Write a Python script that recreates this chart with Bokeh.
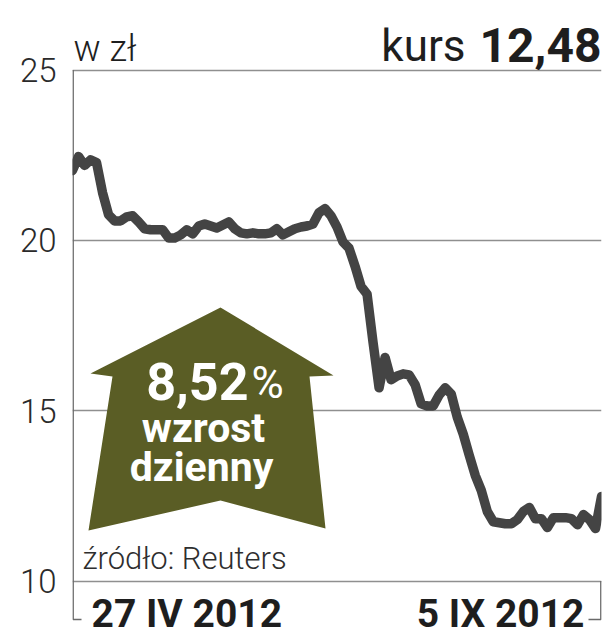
from bokeh.plotting import figure
from bokeh.models import Range1d, FixedTicker, Label, PolyAnnotation
from bokeh.embed import file_html
from bokeh.resources import INLINE

# ---- data ----
prices = [22.05, 22.46, 22.20, 22.36, 22.28, 21.40, 20.75, 20.57, 20.57, 20.69,
          20.72, 20.54, 20.34, 20.31, 20.31, 20.31, 20.07, 20.07, 20.16, 20.31,
          20.19, 20.42, 20.48, 20.42, 20.36, 20.45, 20.54, 20.34, 20.22, 20.19,
          20.22, 20.19, 20.19, 20.22, 20.34, 20.16, 20.25, 20.34, 20.39, 20.42,
          20.48, 20.81, 20.93, 20.72, 20.39, 19.95, 19.77, 19.24, 18.65, 18.42,
          17.00, 15.67, 16.56, 15.91, 16.02, 16.08, 16.05, 15.76, 15.20, 15.14,
          15.14, 15.46, 15.67, 15.49, 14.81, 14.31, 13.69, 13.10, 12.66, 12.04,
          11.74, 11.71, 11.68, 11.68, 11.80, 12.04, 12.16, 11.83, 11.83, 11.57,
          11.86, 11.86, 11.86, 11.83, 11.65, 11.95, 11.80, 11.54, 12.48]
date_labels = ["27 IV 2012", "5 IX 2012"]
y_ticks = [10, 15, 20, 25]
unit_label = "w zł"
price_caption = "kurs"
last_price = "12,48"
change_value = "8,52"
change_words = ["wzrost", "dzienny"]
source_label = "źródło: Reuters"

N = len(prices)
xs = list(range(N))

# ---- layout (pixel positions of the reference) ----
W, H = 605, 640
ML, MR = 72, 4
TOP_PX, BOT_PX = 69.5, 580.5          # where the first/last tick sit
Y0, Y1 = y_ticks[0], y_ticks[-1]
SCALE = (BOT_PX - TOP_PX) / (Y1 - Y0)  # px per unit
y_hi = Y1 + TOP_PX / SCALE
y_lo = Y0 - (H - BOT_PX) / SCALE

def dx(page_x):
    return (page_x - ML) / (W - ML - MR) * (N - 1)

def dy(page_y):
    return Y1 - (page_y - TOP_PX) / SCALE

LIGHT = "Roboto Light"
REG = "Roboto"
BOLD = "Roboto"
GREY = "#8f8f8f"
AXIS = "#6a6a6a"
TXT = "#1e1e1e"
OLIVE = "#5a5d25"

p = figure(width=W, height=H, output_backend="svg", toolbar_location=None,
           x_range=Range1d(0, N - 1), y_range=Range1d(y_lo, y_hi),
           min_border_left=ML, min_border_right=MR, min_border_top=0,
           min_border_bottom=0)
p.outline_line_color = None
p.background_fill_color = "white"
p.border_fill_color = "white"

# y axis (labels only; its line is drawn as the bracket below)
p.yaxis.ticker = FixedTicker(ticks=y_ticks)
p.yaxis.major_tick_line_color = None
p.yaxis.minor_tick_line_color = None
p.yaxis.axis_line_color = None
p.yaxis.major_label_standoff = 10
p.yaxis.major_label_text_font = LIGHT
p.yaxis.major_label_text_font_size = "33px"
p.yaxis.major_label_text_color = "#2a2a2a"
p.xaxis.visible = False

p.xgrid.grid_line_color = None
p.ygrid.ticker = FixedTicker(ticks=y_ticks)
p.ygrid.grid_line_color = GREY
p.ygrid.grid_line_width = 1.5

# axis line + bottom bracket
foot_y = dy(619)
p.line([0.1, 0.1, dx(81)], [Y1, foot_y, foot_y], line_color=AXIS, line_width=1.6)
p.line([N - 1.1, N - 1.1, dx(588)], [Y0, foot_y, foot_y], line_color=AXIS,
       line_width=1.6)

# price line
p.line(xs, prices, line_width=9.5, line_color="#444444", line_join="round",
       line_cap="round")

# arrow
arrow_px = [(220, 307), (90, 373), (112, 376), (88, 530), (220, 500),
            (325, 528), (309, 376), (333, 375)]
p.add_layout(PolyAnnotation(xs=[dx(a) for a, b in arrow_px],
                            ys=[dy(b) for a, b in arrow_px],
                            fill_color=OLIVE, fill_alpha=1, line_color=None))

def lab(text, px_, py_, font, size, style="normal", color=TXT, align="left"):
    p.add_layout(Label(x=dx(px_), y=dy(py_), text=text, text_font=font,
                       text_font_size=size, text_font_style=style,
                       text_color=color, text_align=align,
                       text_baseline="alphabetic"))

lab(unit_label, 73, 48, LIGHT, "36px")
lab(price_caption, 465, 45, REG, "44px", align="right")
lab(last_price, 601, 44, BOLD, "48px", style="bold", align="right")
lab(date_labels[0], 91, 613, BOLD, "39px", style="bold")
lab(date_labels[1], 584, 613, BOLD, "39px", style="bold", align="right")
lab(source_label, 82, 558, LIGHT, "31px", color="#2e2e2e")
lab(change_value, 248, 381, BOLD, "52px", style="bold", color="white", align="right")
lab("%", 251, 382, REG, "44px", color="white")
lab(change_words[0], 203, 427, BOLD, "41px", style="bold", color="white", align="center")
lab(change_words[1], 201, 466, BOLD, "41px", style="bold", color="white", align="center")

open("out.html", "w").write(file_html(p, INLINE))
